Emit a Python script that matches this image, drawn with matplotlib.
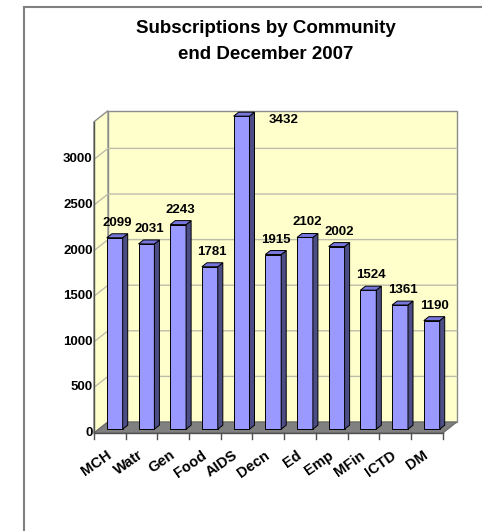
import matplotlib
matplotlib.use("Agg")
import matplotlib.pyplot as plt
from matplotlib.patches import Polygon
from matplotlib.lines import Line2D

plt.rcParams['font.family'] = ['Liberation Sans', 'DejaVu Sans']

# data
communities = ['MCH', 'Watr', 'Gen', 'Food', 'AIDS', 'Decn', 'Ed', 'Emp', 'MFin', 'ICTD', 'DM']
subscriptions = [2099, 2031, 2243, 1781, 3432, 1915, 2102, 2002, 1524, 1361, 1190]
y_ticks = [0, 500, 1000, 1500, 2000, 2500, 3000]
title = 'Subscriptions by Community\nend December 2007'

# pixel scale of the pseudo 3d chart
W, H = 482, 531
U = 31.7        # px per category
S = 0.0912      # px per subscription

DX, DY = 14 / U, 11 / S     # depth offset of the back wall
WALL_TOP = 3413
BAR_W = 0.5
D0, D1 = 0.35, 0.71         # bar depth range (fraction of floor depth)

wall_col = '#ffffcc'
grid_col = '#bdbdab'
edge_col = '#8c8c8c'
front_col = '#9999ff'
top_col = '#7676dc'
side_col = '#4d4d85'

fig = plt.figure(figsize=(4.82, 5.31), dpi=100)
ax = fig.add_axes([94 / W, (H - 433) / H, 366 / W, 325 / H])
n = len(communities)
ax.set_xlim(-0.5, -0.5 + 366 / U)
ax.set_ylim(0, 325 / S)
ax.axis('off')

x0, x1 = -0.5, n - 0.5

# walls and floor
ax.add_patch(Polygon([(x0 + DX, DY), (x1 + DX, DY), (x1 + DX, WALL_TOP + DY), (x0 + DX, WALL_TOP + DY)],
                     closed=True, fc=wall_col, ec=edge_col, lw=1, zorder=1, clip_on=False))
ax.add_patch(Polygon([(x0, 0), (x0 + DX, DY), (x0 + DX, WALL_TOP + DY), (x0, WALL_TOP)],
                     closed=True, fc=wall_col, ec=edge_col, lw=1, zorder=1, clip_on=False))
ax.add_patch(Polygon([(x0, 0), (x1, 0), (x1 + DX, DY), (x0 + DX, DY)],
                     closed=True, fc='#808080', ec='#6e6e6e', lw=1, zorder=2, clip_on=False))

# gridlines
for t in y_ticks[1:]:
    ax.plot([x0, x0 + DX, x1 + DX], [t, t + DY, t + DY], color=grid_col, lw=1, zorder=1.5)

# axis lines and ticks
ax.plot([x0, x0], [0, WALL_TOP], color='#505050', lw=1, zorder=3, clip_on=False)
ax.plot([x0, x1], [0, 0], color='#505050', lw=1, zorder=3, clip_on=False)
for t in y_ticks:
    ax.text(x0 - 1.5 / U, t, str(t), ha='right', va='center', fontsize=9.5,
            fontweight='bold', clip_on=False)
for i in range(n + 1):
    ax.plot([x0 + i, x0 + i], [0, -6 / S], color='#505050', lw=1, clip_on=False, zorder=3)

# bars
for i, v in enumerate(subscriptions):
    l = i - BAR_W / 2 + D0 * DX
    r = i + BAR_W / 2 + D0 * DX
    b = D0 * DY
    ddx = (D1 - D0) * DX
    ddy = (D1 - D0) * DY
    ax.add_patch(Polygon([(l, b), (r, b), (r, b + v), (l, b + v)], closed=True,
                         fc=front_col, ec='black', lw=0.7, zorder=5, clip_on=False))
    ax.add_patch(Polygon([(r, b), (r + ddx, b + ddy), (r + ddx, b + v + ddy), (r, b + v)], closed=True,
                         fc=side_col, ec='black', lw=0.7, zorder=5, clip_on=False))
    ax.add_patch(Polygon([(l, b + v), (r, b + v), (r + ddx, b + v + ddy), (l + ddx, b + v + ddy)], closed=True,
                         fc=top_col, ec='black', lw=0.7, zorder=5, clip_on=False))
    label_y = b + v + ddy + 55
    if label_y + 150 > WALL_TOP + DY:
        # no room above the tallest bar: put the label beside it
        ax.text(i + 1.0, v, str(v), ha='left', va='center', fontsize=9.5,
                fontweight='bold', zorder=6)
    else:
        ax.text(i + (D0 + D1) / 2 * DX, label_y, str(v), ha='center', va='bottom',
                fontsize=9.5, fontweight='bold', zorder=6)

# category labels
for i, name in enumerate(communities):
    ax.text(i - 0.13, -15 / S, name, ha='right', va='top', rotation=35,
            rotation_mode='anchor', fontsize=10.5, fontweight='bold', clip_on=False)

fig.text(266 / W, 1 - 41.5 / H, title, ha='center', va='center', fontsize=13.5,
         fontweight='bold', linespacing=1.65)

# page border
fig.add_artist(Line2D([24 / W, 24 / W], [0, 1 - 7 / H], color='#808080', lw=1.5))
fig.add_artist(Line2D([24 / W, 1], [1 - 7 / H, 1 - 7 / H], color='#808080', lw=1.5))

fig.savefig('out.png', dpi=100)
